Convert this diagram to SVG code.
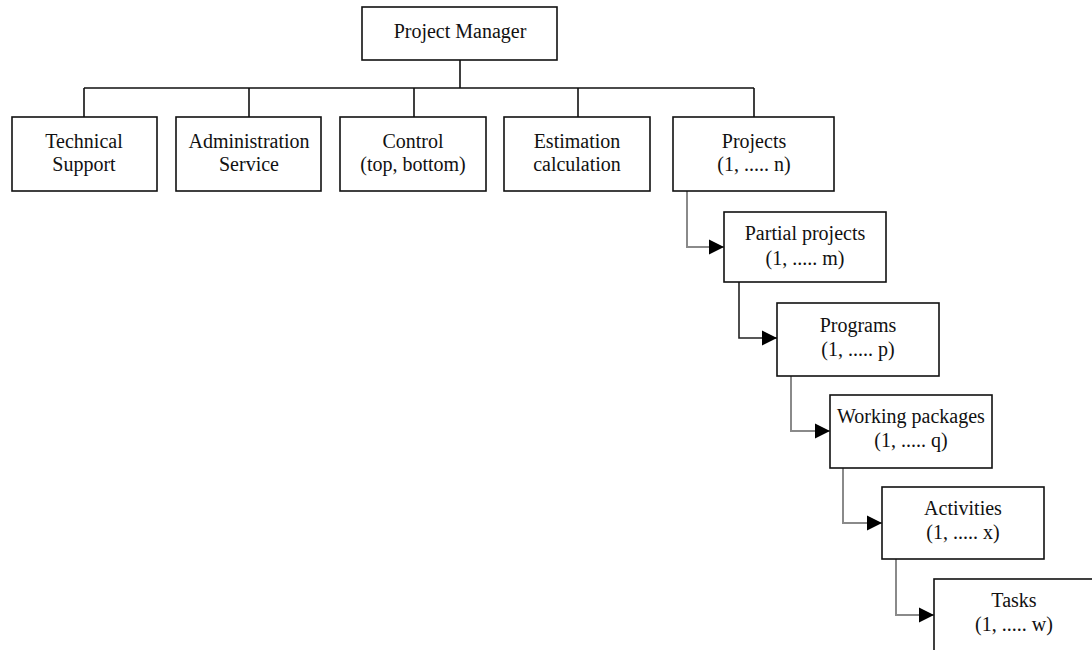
<svg xmlns="http://www.w3.org/2000/svg" width="1092" height="650" viewBox="0 0 1092 650">
<style>
.box{fill:#fff;stroke:#111;stroke-width:1.6}
.t{font-family:'Liberation Serif','Times New Roman',Times,'DejaVu Serif',serif;font-size:20px;fill:#111;text-anchor:middle}
.bus{fill:none;stroke:#111;stroke-width:1.6}
.g{fill:none;stroke:#8a8a8a;stroke-width:2}
.d{fill:none;stroke:#222;stroke-width:1.6}
</style>
<defs>
<marker id="ah" markerUnits="userSpaceOnUse" markerWidth="16" markerHeight="16" refX="15" refY="8" orient="auto">
<path d="M0,0.5 L15,8 L0,15.5 Z" fill="#000"/>
</marker>
</defs>
<rect width="1092" height="650" fill="#fff"/>
<g id="connectors">
<path class="bus" d="M460,60 V88 M84,88 H754 M84,88 V117 M249,88 V117 M414,88 V117 M578,88 V117 M754,88 V117"/>
<path class="g" d="M687,191 V247 H724" marker-end="url(#ah)"/>
<path class="d" d="M739,282 V338 H777" marker-end="url(#ah)"/>
<path class="g" d="M791,376 V431 H830" marker-end="url(#ah)"/>
<path class="g" d="M843,468 V523 H882" marker-end="url(#ah)"/>
<path class="g" d="M896,559 V615 H934" marker-end="url(#ah)"/>
</g>
<g id="pm"><rect class="box" x="362" y="7" width="195" height="53"/><text class="t" x="460" y="38" font-family="Liberation Serif, serif">Project Manager</text></g>
<g id="tech"><rect class="box" x="12" y="117" width="145" height="74"/><text class="t" x="84" y="148">Technical</text><text class="t" x="84" y="171">Support</text></g>
<g id="admin"><rect class="box" x="176" y="117" width="145" height="74"/><text class="t" x="249" y="148">Administration</text><text class="t" x="249" y="171">Service</text></g>
<g id="control"><rect class="box" x="340" y="117" width="146" height="74"/><text class="t" x="413" y="148">Control</text><text class="t" x="413" y="171">(top, bottom)</text></g>
<g id="estimation"><rect class="box" x="504" y="117" width="146" height="74"/><text class="t" x="577" y="148">Estimation</text><text class="t" x="577" y="171">calculation</text></g>
<g id="projects"><rect class="box" x="673" y="117" width="161" height="74"/><text class="t" x="754" y="148">Projects</text><text class="t" x="754" y="171">(1, ..... n)</text></g>
<g id="partial"><rect class="box" x="724" y="212" width="162" height="70"/><text class="t" x="805" y="240">Partial projects</text><text class="t" x="805" y="265">(1, ..... m)</text></g>
<g id="programs"><rect class="box" x="777" y="303" width="162" height="73"/><text class="t" x="858" y="332">Programs</text><text class="t" x="858" y="356">(1, ..... p)</text></g>
<g id="working"><rect class="box" x="830" y="395" width="162" height="73"/><text class="t" x="911" y="423">Working packages</text><text class="t" x="911" y="447">(1, ..... q)</text></g>
<g id="activities"><rect class="box" x="882" y="487" width="162" height="72"/><text class="t" x="963" y="515">Activities</text><text class="t" x="963" y="539">(1, ..... x)</text></g>
<g id="tasks"><rect class="box" x="934" y="579" width="162" height="80"/><text class="t" x="1014" y="607">Tasks</text><text class="t" x="1014" y="631">(1, ..... w)</text></g>
</svg>
